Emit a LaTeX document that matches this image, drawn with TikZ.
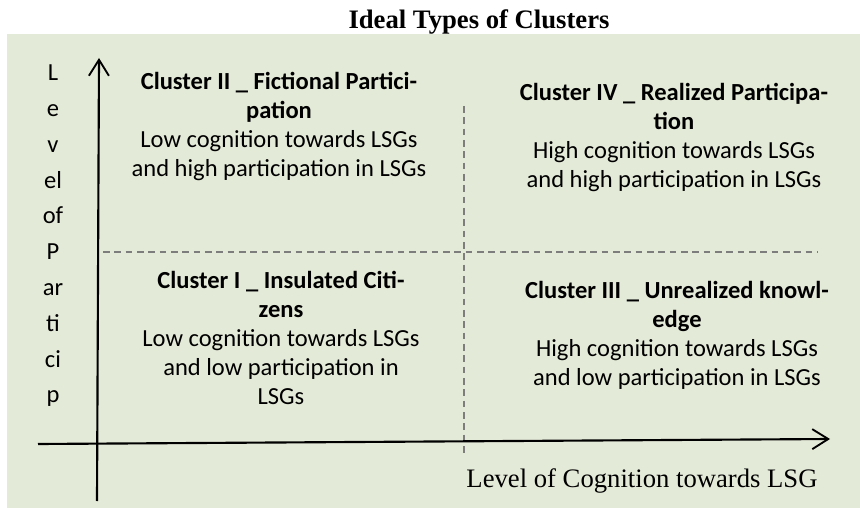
\documentclass[tikz,border=0pt]{standalone}
\usepackage{fontspec}
\setmainfont{Carlito}
\newfontfamily\timesfont{Liberation Serif}
\usepackage{tikz}
\usetikzlibrary{arrows.meta}
\definecolor{panelgreen}{RGB}{228,234,216}
\definecolor{splitgray}{RGB}{125,125,125}
\tikzset{
  axis/.style={line width=1.6pt,-{Straight Barb[length=12pt,width=15pt,line width=1.4pt]}},
  split/.style={splitgray,line width=1.1pt,dash pattern=on 5pt off 3.5pt},
  quad/.style={align=center,font=\fontsize{18.4}{21.75}\selectfont},
}

\begin{document}
\begin{tikzpicture}[x=0.75pt,y=-0.75pt]
\useasboundingbox (0,0) rectangle (860,516);
\fill[panelgreen] (7,34) rectangle (860,508);
\node (title) at (479,22) {\timesfont\bfseries\fontsize{20}{24}\selectfont Ideal Types of Clusters};
\coordinate (hleft) at (103,252);
\coordinate (hright) at (818,252);
\coordinate (vtop) at (464,106);
\coordinate (vbottom) at (464,454);
\draw[split] (hleft) -- (hright);
\draw[split] (vtop) -- (vbottom);
\coordinate (xfrom) at (38,444);
\coordinate (xto) at (830,439);
\coordinate (yfrom) at (97,501);
\coordinate (yto) at (99,58);
\draw[axis] (xfrom) -- (xto);
\draw[axis] (yfrom) -- (yto);
\node[align=center,font=\fontsize{18.4}{26.85}\selectfont] (ylabel) at (53,236) {L\\e\\v\\el\\of\\P\\ar\\ti\\ci\\p};
\node[font=\timesfont\fontsize{20}{24}\selectfont] (xlabel) at (642,481) {Level of Cognition towards LSG};
\node[quad] (fictional) at (279,126) {\textbf{Cluster II \_ Fictional Partici-}\\\textbf{pation}\\Low cognition towards LSGs\\and high participation in LSGs};
\node[quad] (realized) at (674,137) {\textbf{Cluster IV \_ Realized Participa-}\\\textbf{tion}\\High cognition towards LSGs\\and high participation in LSGs};
\node[quad] (insulated) at (281,338) {\textbf{Cluster I \_ Insulated Citi-}\\\textbf{zens}\\Low cognition towards LSGs\\and low participation in\\LSGs};
\node[quad] (unrealized) at (677,335) {\textbf{Cluster III \_ Unrealized knowl-}\\\textbf{edge}\\High cognition towards LSGs\\and low participation in LSGs};
\end{tikzpicture}
\end{document}
